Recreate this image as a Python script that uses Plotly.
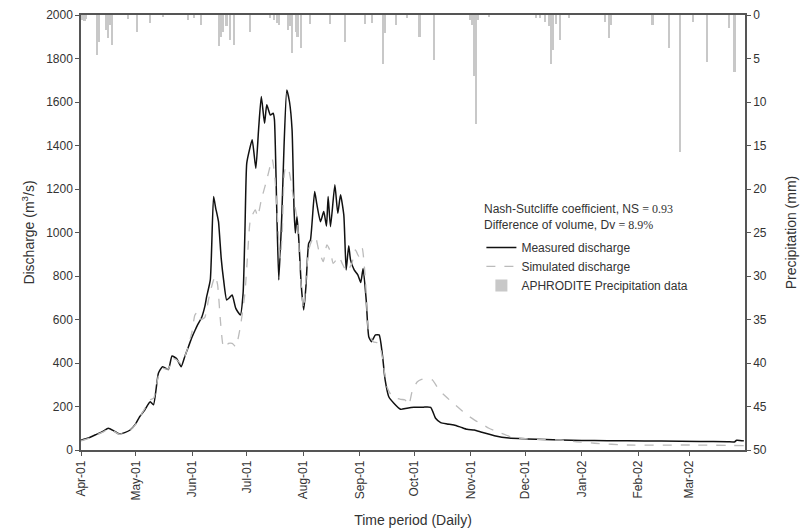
import pandas as pd
import plotly.graph_objects as go

START = pd.Timestamp("2001-04-01")

# Measured discharge (day offset from 1 Apr 2001, m3/s)
meas_day = [0, 4, 8, 12, 15, 18, 21, 24, 27, 30, 32, 35, 38, 39.8, 42.5, 44.7, 46, 48, 50, 52.5,
            55, 57, 59, 61, 62.7, 64, 66.4, 68, 69, 71, 72.8, 74, 74.6, 75.5, 77, 78.3, 80, 81.5,
            83, 85, 87.5, 89, 90, 91, 92.5, 94, 96, 97.5, 99, 100.8, 102, 104, 105.5, 106.2, 107.5,
            108.6, 110.3, 111.5, 113, 114.5, 115.9, 117, 117.7, 118.6, 119.5, 121, 122.3, 123.5,
            125, 126, 128.3, 129.5, 131.5, 133.3, 134.8, 135.7, 137, 139.4, 141, 142.5, 144.3,
            145.6, 147, 148, 150, 152, 153.6, 154.9, 156.6, 158, 159.5, 161.7, 163.7, 165.4, 167,
            169, 171.8, 175.5, 179, 182.8, 188, 192, 194.7, 197.5, 201, 204.8, 208.5, 212, 216,
            220, 227, 235, 245, 255, 263.5, 275, 289, 300, 318.5, 340, 355, 358.8, 360, 364]
meas_val = [45, 55, 70, 85, 100, 88, 74, 80, 92, 120, 150, 184, 222, 208, 353, 383, 378, 370, 432, 420,
            383, 430, 475, 520, 552, 575, 613, 660, 705, 782, 1165, 1110, 1088, 1050, 880, 782, 690, 700,
            713, 651, 621, 720, 1000, 1318, 1380, 1426, 1295, 1472, 1625, 1502, 1587, 1540, 1548, 1520, 1100,
            782, 1088, 1400, 1655, 1600, 1472, 1100, 998, 1073, 980, 750, 644, 750,
            950, 966, 1188, 1130, 1050, 1096, 1030, 1165, 1027, 1219, 1088, 1173, 1081,
            828, 939, 874, 828, 805, 770, 835, 690, 521, 498, 529, 529, 445, 322,
            245, 215, 187, 192, 196, 197, 196, 146, 126, 120, 115, 105, 95, 92,
            82, 66, 55, 51, 48, 46, 44, 43, 42, 41, 39, 38, 37, 45, 42]

# Simulated discharge
sim_day = [0, 4, 8, 12, 15, 18, 21, 24, 27, 30, 32, 35, 38, 40, 42.5, 44.7, 48, 50, 52.5, 55, 57, 59,
           61, 62.5, 64, 66, 68, 70, 72, 73.7, 75, 76.5, 78, 79, 81, 83, 85, 87.5, 90, 91.5, 93, 95.7,
           97, 99, 102, 105, 106.5, 107.5, 109.4, 110.5, 112, 113.6, 115, 116.8, 118.8, 120.5, 122.2,
           123.5, 125, 126.9, 128.7, 130.5, 133, 135, 137, 138.5, 141.6, 143.4, 146, 148.7, 150.7,
           152.6, 154.4, 156.2, 158, 160.4, 163.5, 165.4, 168, 170.9, 175.5, 178, 180, 182, 184.7,
           187, 190, 193, 196.6, 199.4, 203, 206.7, 212, 217.7, 219.5, 224, 228.6, 236, 245, 255,
           263.5, 272, 282, 300, 337, 364]
sim_val = [42, 52, 68, 82, 95, 86, 72, 78, 90, 118, 148, 190, 230, 240, 340, 375, 372, 420, 415, 395, 430, 480,
           545, 620, 636, 600, 610, 690, 760, 800, 760, 600, 480, 470, 490, 490, 475, 567, 720, 900, 1058, 1104,
           1073, 1150, 1242, 1337, 1250, 1119, 880, 1000, 1288, 1303, 1250, 1150, 1058, 800, 650,
           780, 920, 966, 981, 920, 866, 943, 912, 858, 889, 858, 820, 858, 920,
           889, 928, 782, 537, 498, 491, 430, 291, 245, 233, 230, 207, 276, 314,
           325, 330, 322, 276, 253, 225, 199, 161, 130, 123, 100, 84, 61, 51, 48,
           46, 38, 31, 23, 23, 20]

# APHRODITE precipitation (day offset, mm)
prec_day = [1, 2, 3, 9, 10, 14, 15, 16, 17, 26, 31, 38, 45, 59, 62, 66, 76, 77, 78, 80, 82, 84, 93,
            104, 106, 108, 109, 114, 115, 116, 118, 119, 121, 126, 137, 145, 156, 160, 166, 167, 173,
            179, 186, 194, 214, 215, 216, 217, 218, 224, 250, 252, 255, 257, 258, 259, 261, 263, 268,
            288, 290, 291, 314, 323, 329, 336, 344, 356, 359]
prec_mm = [0.6, 0.7, 0.5, 4.6, 3.1, 1.7, 2.7, 1.1, 3.4, 0.5, 1.9, 0.9, 0.2, 0.6, 0.4, 1.1, 3.6, 2.5, 1.9, 1.3, 2.9, 3.4, 2.0,
           0.4, 0.6, 0.9, 1.1, 1.7, 1.3, 4.4, 1.9, 2.5, 3.8, 1.0, 1.0, 3.1, 1.0, 0.9, 5.6, 2.1, 1.1,
           0.3, 2.5, 5.2, 0.6, 1.1, 7.0, 12.5, 0.6, 0.2, 0.4, 0.4, 0.8, 1.3, 5.6, 4.0, 1.0, 2.9, 0.4,
           0.8, 2.7, 1.2, 1.2, 3.8, 15.8, 0.8, 5.4, 1.5, 6.5]

tick_dates = pd.date_range("2001-04-01", "2002-03-01", freq="MS")


def to_dates(days):
    return [START + pd.Timedelta(days=d) for d in days]


FONT = "Liberation Sans, Arial, sans-serif"
AX = "#555555"

fig = go.Figure()
fig.add_trace(go.Scatter(x=to_dates(meas_day), y=meas_val, mode="lines", name="Measured discharge",
                         line=dict(color="#111111", width=1.5, shape="spline", smoothing=0.5)))
fig.add_trace(go.Scatter(x=to_dates(sim_day), y=sim_val, mode="lines", name="Simulated discharge",
                         line=dict(color="#bbbbbb", width=1.3, dash="dash", shape="spline", smoothing=0.5)))
fig.add_trace(go.Bar(x=to_dates(prec_day), y=prec_mm, name="APHRODITE Precipitation data",
                     yaxis="y2", marker=dict(color="#c8c8c8", line=dict(width=0)),
                     width=86400000 * 0.95))

fig.update_layout(
    width=809, height=529,
    margin=dict(l=81, r=64, t=15, b=79),
    paper_bgcolor="white", plot_bgcolor="white",
    font=dict(family=FONT, size=12, color="#333333"),
    showlegend=True,
    legend=dict(x=0.603, y=0.499, xanchor="left", yanchor="top", bgcolor="rgba(0,0,0,0)",
                font=dict(size=12, color="#333333"), tracegroupgap=0, itemwidth=30),
    xaxis=dict(type="date", range=[START, START + pd.Timedelta(days=364.6)], automargin=False,
               tickvals=list(tick_dates), ticktext=[d.strftime("%b-%y") for d in tick_dates],
               tickangle=-90, ticks="outside", ticklen=4, tickcolor=AX,
               showline=True, linecolor=AX, linewidth=1.5, mirror=True, showgrid=False, zeroline=False,
               title=dict(text="Time period (Daily)", font=dict(size=14), standoff=16)),
    yaxis=dict(range=[0, 2000], dtick=200, ticks="outside", ticklen=4, tickcolor=AX, automargin=False,
               showline=True, linecolor=AX, linewidth=1.5, showgrid=False, zeroline=False,
               title=dict(text="Discharge (m<sup>3</sup>/s)", font=dict(size=14), standoff=8)),
    yaxis2=dict(range=[50, 0], dtick=5, overlaying="y", side="right", ticks="outside", ticklen=4,
                automargin=False,
                tickcolor=AX, showline=True, linecolor=AX, linewidth=1.5, showgrid=False, zeroline=False,
                title=dict(text="Precipitation (mm)", font=dict(size=14), standoff=20)),
    bargap=0,
)

fig.add_annotation(xref="paper", yref="paper", x=0.604, y=0.555, xanchor="left", yanchor="middle",
                   showarrow=False, font=dict(size=12, color="#333333"),
                   text="Nash-Sutcliffe coefficient, NS <span style='font-family:Liberation Serif'>= 0.93</span>")
fig.add_annotation(xref="paper", yref="paper", x=0.604, y=0.518, xanchor="left", yanchor="middle",
                   showarrow=False, font=dict(size=12, color="#333333"),
                   text="Difference of volume, Dv <span style='font-family:Liberation Serif'>= 8.9%</span>")

fig.write_html("out.html")
